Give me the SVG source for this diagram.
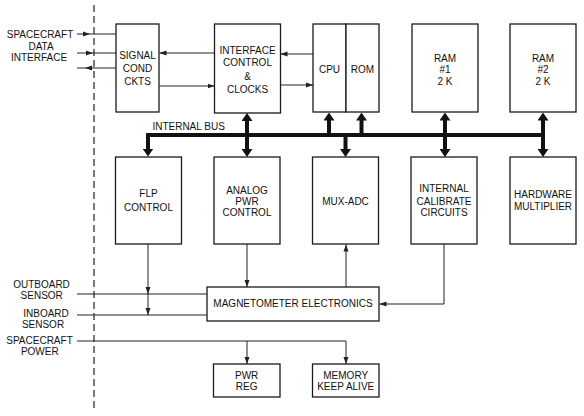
<svg xmlns="http://www.w3.org/2000/svg" width="584" height="416" viewBox="0 0 584 416">
<style>
.box{fill:#fff;stroke:#1a1a1a;stroke-width:1.3}
.t{font-family:"Liberation Sans",Arial,sans-serif;font-size:10px;fill:#111;text-anchor:middle}
.w{fill:none;stroke:#222;stroke-width:1}
.bus{fill:none;stroke:#111;stroke-width:4;stroke-linejoin:miter}
</style>
<defs>
<marker id="a" viewBox="0 0 7 6" refX="7" refY="3" markerWidth="7" markerHeight="6" markerUnits="userSpaceOnUse" orient="auto"><path d="M0,0.5 L7,3 L0,5.5 z" fill="#222"/></marker>
<marker id="B" viewBox="0 0 8 11" refX="0.5" refY="5.5" markerWidth="8" markerHeight="11" markerUnits="userSpaceOnUse" orient="auto-start-reverse"><path d="M0,0 L8,5.5 L0,11 z" fill="#111"/></marker>
</defs>
<rect width="584" height="416" fill="#fff"/>
<line x1="94" y1="5" x2="94" y2="412" stroke="#222" stroke-width="1.2" stroke-dasharray="7,4"/>
<g id="labels">
<text class="t" x="40" y="37.6">SPACECRAFT</text>
<text class="t" x="41" y="49.6">DATA</text>
<text class="t" x="39" y="60.6">INTERFACE</text>
<text class="t" x="41.5" y="287.6">OUTBOARD</text>
<text class="t" x="41.7" y="298.6">SENSOR</text>
<text class="t" x="46" y="316.5">INBOARD</text>
<text class="t" x="43" y="327.5">SENSOR</text>
<text class="t" x="39.5" y="343.6">SPACECRAFT</text>
<text class="t" x="39.8" y="354.6">POWER</text>
<text class="t" x="188.6" y="129.6">INTERNAL BUS</text>
</g>
<g id="connectors">
<path class="w" d="M77,34 L90,34 L116,34" marker-mid="url(#a)"/>
<path class="w" d="M77,53 L93,53 L116,53" marker-mid="url(#a)"/>
<path class="w" d="M116,68 L85,68 L77,68" marker-mid="url(#a)"/>
<line class="w" x1="214.5" y1="53" x2="159.5" y2="53" marker-end="url(#a)"/>
<line class="w" x1="159.5" y1="86" x2="214.5" y2="86" marker-end="url(#a)"/>
<line class="w" x1="313" y1="54" x2="280.5" y2="54" marker-end="url(#a)"/>
<line class="w" x1="280.5" y1="85" x2="313" y2="85" marker-end="url(#a)"/>
<path class="bus" d="M543,135 L148,135 L148,149"  marker-end="url(#B)"/>
<line class="bus" x1="247" y1="120.5" x2="247" y2="149.5" marker-start="url(#B)" marker-end="url(#B)"/>
<line class="bus" x1="329" y1="135" x2="329" y2="120" marker-end="url(#B)"/>
<line class="bus" x1="361.5" y1="135" x2="361.5" y2="120" marker-end="url(#B)"/>
<line class="bus" x1="345.5" y1="135" x2="345.5" y2="149.5" marker-end="url(#B)"/>
<line class="bus" x1="445" y1="120" x2="445" y2="149.5" marker-start="url(#B)" marker-end="url(#B)"/>
<line class="bus" x1="543" y1="120" x2="543" y2="149.5" marker-start="url(#B)" marker-end="url(#B)"/>
<path class="w" d="M148,244 L148,294 L148,315" marker-mid="url(#a)" marker-end="url(#a)"/>
<line class="w" x1="77" y1="294" x2="207" y2="294"/>
<line class="w" x1="77" y1="315" x2="207" y2="315"/>
<line class="w" x1="247" y1="244" x2="247" y2="287" marker-end="url(#a)"/>
<line class="w" x1="346" y1="287" x2="346" y2="244.5" marker-end="url(#a)"/>
<path class="w" d="M444,244 L444,304 L379.5,304" marker-end="url(#a)"/>
<path class="w" d="M77,341 L346,341 L346,364" marker-end="url(#a)"/>
<line class="w" x1="247" y1="341" x2="247" y2="364" marker-end="url(#a)"/>
</g>
<g id="signal"><rect class="box" x="116" y="24" width="43" height="88"/>
<text class="t" x="137.5" y="58.6">SIGNAL</text><text class="t" x="137.5" y="71.9">COND</text><text class="t" x="137.5" y="85.3">CKTS</text></g>
<g id="interface"><rect class="box" x="214.5" y="24" width="66" height="89"/>
<text class="t" x="247.5" y="53.6">INTERFACE</text><text class="t" x="247.5" y="66">CONTROL</text><text class="t" x="247.5" y="79.6">&amp;</text><text class="t" x="247.5" y="92.6">CLOCKS</text></g>
<g id="cpu"><rect class="box" x="313" y="24" width="33" height="88"/><text class="t" x="329.5" y="73">CPU</text></g>
<g id="rom"><rect class="box" x="346" y="24" width="33" height="88"/><text class="t" x="362.5" y="73">ROM</text></g>
<g id="ram1"><rect class="box" x="412" y="24" width="66" height="88"/>
<text class="t" x="445" y="62">RAM</text><text class="t" x="445" y="73">#1</text><text class="t" x="445" y="84.6">2 K</text></g>
<g id="ram2"><rect class="box" x="510" y="24" width="66" height="88"/>
<text class="t" x="543" y="62">RAM</text><text class="t" x="543" y="73">#2</text><text class="t" x="543" y="84.6">2 K</text></g>
<g id="flp"><rect class="box" x="115.5" y="157" width="66" height="87"/>
<text class="t" x="148.5" y="197">FLP</text><text class="t" x="148.5" y="211.3">CONTROL</text></g>
<g id="analog"><rect class="box" x="214" y="157" width="66" height="87"/>
<text class="t" x="247" y="194.3">ANALOG</text><text class="t" x="247" y="205">PWR</text><text class="t" x="247" y="216">CONTROL</text></g>
<g id="mux"><rect class="box" x="312.5" y="157" width="66" height="87"/><text class="t" x="345.5" y="204.6">MUX-ADC</text></g>
<g id="calib"><rect class="box" x="411" y="157" width="66" height="87"/>
<text class="t" x="444" y="192">INTERNAL</text><text class="t" x="444" y="204.6">CALIBRATE</text><text class="t" x="444" y="216">CIRCUITS</text></g>
<g id="hwmul"><rect class="box" x="510" y="157" width="66" height="87"/>
<text class="t" x="543" y="197.6">HARDWARE</text><text class="t" x="543" y="210.3">MULTIPLIER</text></g>
<g id="mag"><rect class="box" x="207" y="287" width="172" height="34"/><text class="t" x="293" y="307">MAGNETOMETER ELECTRONICS</text></g>
<g id="pwrreg"><rect class="box" x="213.5" y="364" width="66.5" height="33"/>
<text class="t" x="246.7" y="378.6">PWR</text><text class="t" x="246.7" y="390.3">REG</text></g>
<g id="memka"><rect class="box" x="312.5" y="364" width="66.5" height="33"/>
<text class="t" x="345.7" y="378.6">MEMORY</text><text class="t" x="345.7" y="390.3">KEEP ALIVE</text></g>
</svg>
